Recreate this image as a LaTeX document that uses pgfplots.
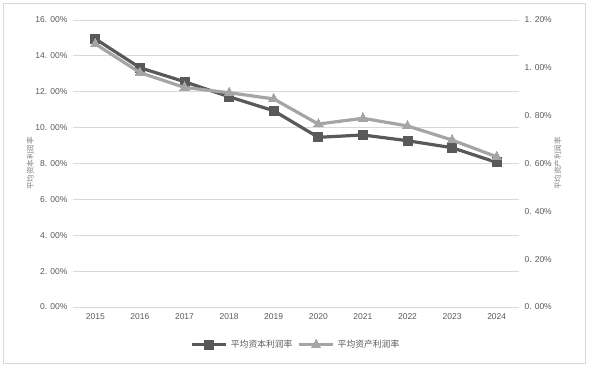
\documentclass[border=0pt]{standalone}
\usepackage{pgfplots}
\pgfplotsset{compat=1.18}
\usepackage{fontspec}
\setmainfont{Liberation Sans}
\newfontfamily\cjk{Noto Sans CJK SC}
\definecolor{darkser}{HTML}{595959}
\definecolor{lightser}{HTML}{A5A5A5}
\definecolor{gridc}{HTML}{D9D9D9}
\definecolor{txt}{HTML}{595959}
\begin{document}
\begin{tikzpicture}
\path[use as bounding box] (0pt,0pt) rectangle (591pt,369pt);
\draw[gridc,line width=0.8pt] (3pt,6pt) rectangle (585pt,366pt);
\begin{axis}[
  at={(73pt,62pt)}, anchor=south west,
  scale only axis, width=446pt, height=287pt,
  xmin=-0.5, xmax=9.5, ymin=0, ymax=16,
  xtick={0,...,9},
  xticklabels={2015,2016,2017,2018,2019,2020,2021,2022,2023,2024},
  ytick={0,2,...,16},
  yticklabels={0. 00\%,2. 00\%,4. 00\%,6. 00\%,8. 00\%,10. 00\%,12. 00\%,14. 00\%,16. 00\%},
  axis line style={draw=none},
  major tick length=0pt,
  ymajorgrids, grid style={gridc, line width=0.8pt},
  tick label style={font=\fontsize{8.5}{10}\selectfont, text=txt},
  yticklabel style={xshift=-2pt},
  xticklabel style={yshift=-3pt},
  ylabel={\cjk 平均资本利润率},
  ylabel style={at={(axis description cs:-0.096,0.5)}, anchor=center, rotate=0, font=\fontsize{7.5}{9}\selectfont, text=gray},
  legend style={at={(axis description cs:0.5,-0.132)}, anchor=center, draw=none, fill=none, legend columns=2,
    font=\fontsize{8.8}{10}\selectfont\cjk, text=txt, /tikz/every even column/.append style={column sep=3pt},
    /tikz/every odd column/.append style={column sep=1pt}},
  legend image code/.code={\draw[#1, mark repeat=2, mark phase=2] plot coordinates {(0pt,0pt) (17pt,0pt) (34pt,0pt)};},
  clip=false,
]
\addplot[darkser, line width=3.2pt, mark=square*, mark size=4.5pt, mark options={line width=0pt}] coordinates {
(0,14.95) (1,13.34) (2,12.56) (3,11.72) (4,10.94) (5,9.46) (6,9.59) (7,9.27) (8,8.88) (9,8.06)};
\addlegendentry{平均资本利润率}
\addlegendimage{lightser, line width=3.2pt, mark=triangle*, mark size=5.5pt, mark options={line width=0pt}}
\addlegendentry{平均资产利润率}
\end{axis}
\begin{axis}[
  at={(73pt,62pt)}, anchor=south west,
  scale only axis, width=446pt, height=287pt,
  xmin=-0.5, xmax=9.5, ymin=0, ymax=1.2,
  axis x line=none, axis y line*=right,
  axis line style={draw=none},
  major tick length=0pt,
  ytick={0,0.2,...,1.2},
  yticklabels={0. 00\%,0. 20\%,0. 40\%,0. 60\%,0. 80\%,1. 00\%,1. 20\%},
  tick label style={font=\fontsize{8.5}{10}\selectfont, text=txt},
  yticklabel style={anchor=west, xshift=2pt},
  ylabel={\cjk 平均资产利润率},
  ylabel style={at={(axis description cs:1.087,0.5)}, anchor=center, rotate=0, font=\fontsize{7.5}{9}\selectfont, text=gray},
  clip=false,
]
\addplot[lightser, line width=3.2pt, mark=triangle*, mark size=5.5pt, mark options={line width=0pt}] coordinates {
(0,1.10) (1,0.98) (2,0.918) (3,0.896) (4,0.87) (5,0.765) (6,0.789) (7,0.757) (8,0.698) (9,0.628)};
\end{axis}
\end{tikzpicture}
\end{document}
